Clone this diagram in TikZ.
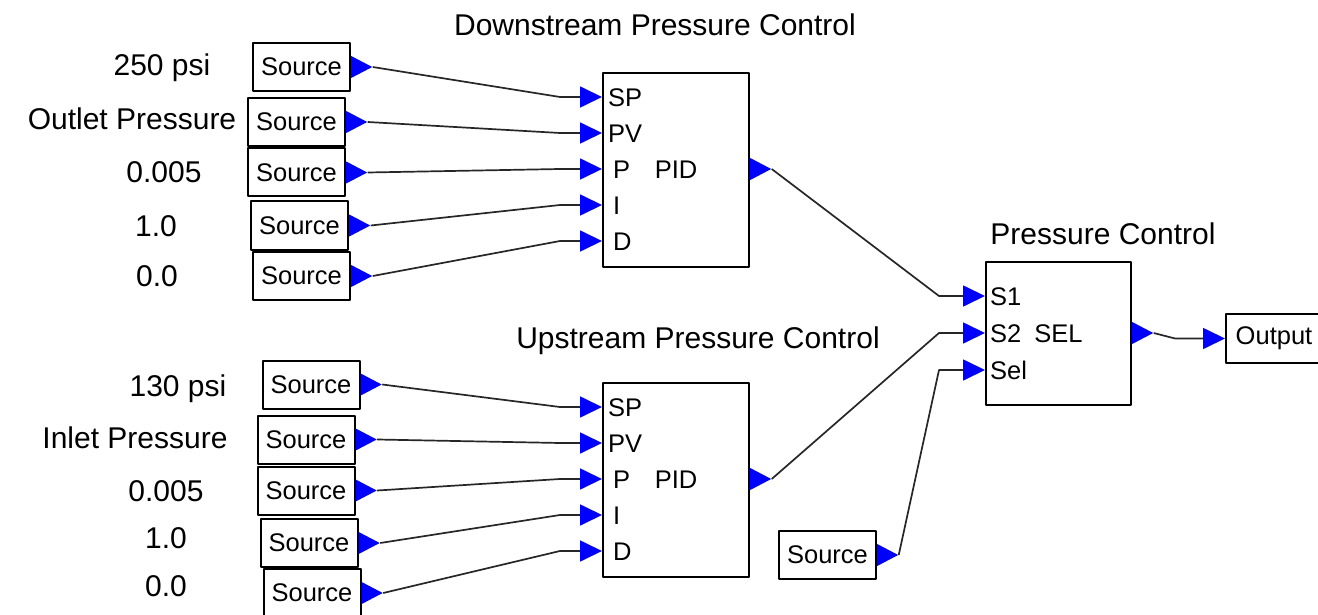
\documentclass[tikz,border=0pt]{standalone}
\usepackage{fontspec}
\setmainfont{Liberation Sans}
\usetikzlibrary{shapes.geometric,arrows.meta}
\begin{document}
\begin{tikzpicture}[x=1pt,y=-1pt,line join=round,
    box/.style={draw,line width=2pt,inner sep=0pt},
    src/.style={box,minimum width=97pt,minimum height=48pt,font=\fontsize{25.5}{30}\selectfont},
    blk/.style={box,minimum width=146pt},
    lbl/.style={font=\fontsize{30}{36}\selectfont,inner sep=0pt,text height=21.5pt,text depth=0pt},
    plbl/.style={font=\fontsize{25.5}{30}\selectfont,inner sep=0pt,anchor=west,text height=18.3pt,text depth=0pt},
    outport/.style={isosceles triangle,isosceles triangle stretches,fill=blue,inner sep=0pt,minimum width=22pt,minimum height=21pt,anchor=west},
    wire/.style={line width=1.7pt,black!85,-{Triangle[length=22pt,width=21pt,blue]}}]
  \useasboundingbox (0,0) rectangle (1318,615);
  \node[blk,minimum height=194pt] (pidA) at (676,170) {};
  \node[blk,minimum height=194pt] (pidB) at (676,480) {};
  \node[lbl] (ttlA) at (655,25) {Downstream Pressure Control};
  \node[lbl] (ttlB) at (698,338) {Upstream Pressure Control};
  \foreach \b in {pidA,pidB}{
    \foreach \p/\dx [count=\i] in {SP/6pt,PV/6pt,P/11pt,I/11pt,D/11pt}{
      \coordinate (\b-\i) at ([yshift=-25pt-36pt*(\i-1)]\b.north west);
      \node[plbl] (\b-l\i) at ([xshift=\dx]\b-\i) {\p};
    }
    \node[plbl,anchor=center] (\b-n) at (\b.center |- \b-3) {PID};
    \node[outport] (\b-o) at (\b.east |- \b-3) {};
  }
  \node[blk,minimum width=145pt,minimum height=143pt] (pc) at (1058.5,333.5) {};
  \node[lbl] (ttlC) at (1103,234) {Pressure Control};
  \foreach \p [count=\i] in {S1,S2,Sel}{
    \coordinate (pc-\i) at ([yshift=-35pt-37pt*(\i-1)]pc.north west);
    \node[plbl] (pc-l\i) at ([xshift=5pt]pc-\i) {\p};
  }
  \node[plbl,anchor=center] (pc-n) at (pc.center |- pc-2) {SEL};
  \node[outport] (pc-o) at (pc.east |- pc-2) {};
  \node[src,minimum width=96pt,minimum height=49pt] (out) at (1274,338.5) {Output};
  \draw[wire] (pc-o.apex) -- ([xshift=-50pt]out.west) -- (out.west);
  \foreach \i/\txt/\lx/\ly/\sx/\sy in {1/250 psi/162/65/301.5/67,2/Outlet Pressure/132/119/296.5/122,3/0.005/164/172/296.5/172.5,4/1.0/156/226/299.5/225.5,5/0.0/157/276/301.5/276}{
    \node[lbl] (la\i) at (\lx,\ly) {\txt};
    \node[src] (sa\i) at (\sx,\sy) {Source};
    \node[outport] (sa\i-o) at (sa\i.east) {};
    \draw[wire] (sa\i-o.apex) -- ([xshift=-42pt]pidA-\i) -- (pidA-\i);
  }
  \foreach \i/\txt/\lx/\ly/\sx/\sy in {1/130 psi/178/386/311/384.5,2/Inlet Pressure/135/438/306/439.5,3/0.005/166/491/306/490.5,4/1.0/166/538/309/543,5/0.0/166/586/312/593}{
    \node[lbl] (lb\i) at (\lx,\ly) {\txt};
    \node[src] (sb\i) at (\sx,\sy) {Source};
    \node[outport] (sb\i-o) at (sb\i.east) {};
    \draw[wire] (sb\i-o.apex) -- ([xshift=-42pt]pidB-\i) -- (pidB-\i);
  }
  \node[src] (ssel) at (827.5,555) {Source};
  \node[outport] (ssel-o) at (ssel.east) {};
  \draw[wire] (pidA-o.apex) -- ([xshift=-46pt]pc-1) -- (pc-1);
  \draw[wire] (pidB-o.apex) -- ([xshift=-46pt]pc-2) -- (pc-2);
  \draw[wire] (ssel-o.apex) -- ([xshift=-46pt]pc-3) -- (pc-3);
\end{tikzpicture}
\end{document}
